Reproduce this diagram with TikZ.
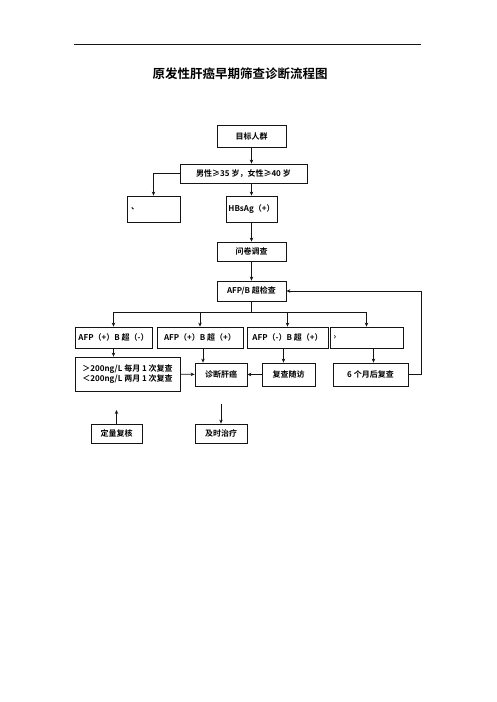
\documentclass[tikz,border=0pt]{standalone}
\usepackage{fontspec}
\setmainfont{Noto Sans CJK SC}[BoldFont={Noto Sans CJK SC Bold}]
\usepackage{tikz}
\usetikzlibrary{arrows.meta, positioning, calc}
\definecolor{mydark}{RGB}{20,20,20}
\tikzset{
  box/.style={rectangle, draw=mydark, fill=white, align=center,
    inner sep=1pt, font=\fontsize{8}{10}\selectfont\bfseries, line width=0.8pt},
  arrow/.style={-{Stealth[length=4pt,width=3.5pt]}, line width=0.8pt, color=mydark},
  line/.style={line width=0.8pt, color=mydark}
}
\begin{document}
\begin{tikzpicture}[x=1pt, y=-1pt]
  \useasboundingbox (0,0) rectangle (496,702);

  \draw[line] (74,44) -- (421,44);
  \node[font=\fontsize{12.5}{14}\selectfont\bfseries] (title) at (240,74) {原发性肝癌早期筛查诊断流程图};

  \node[box, minimum width=69pt, minimum height=22pt] (target)  at (251.5,136)   {目标人群};
  \node[box, minimum width=127pt, minimum height=19pt] (agecrit) at (243.5,173.5) {男性≥35 岁，女性≥40 岁};
  \node[box, minimum width=53pt, minimum height=26pt, text width=45pt, align=left] (blank) at (153.5,209) {、};
  \node[box, minimum width=51pt, minimum height=26pt] (hbsag)   at (251.5,209)   {HBsAg（+）};
  \node[box, minimum width=69pt, minimum height=19pt] (survey)  at (251.5,251.5) {问卷调查};
  \node[box, minimum width=69pt, minimum height=20pt] (afpb)    at (251.5,291)   {AFP/B 超检查};

  \node[box, minimum width=77pt, minimum height=21pt] (afppn) at (113.5,337.5) {AFP（+）B 超（-）};
  \node[box, minimum width=86pt, minimum height=21pt] (afppp) at (200,337.5)   {AFP（+）B 超（+）};
  \node[box, minimum width=81pt, minimum height=21pt] (afpnp) at (287.5,337.5) {AFP（-）B 超（+）};
  \node[box, minimum width=73pt, minimum height=21pt, text width=66pt, align=left] (other) at (366.5,337.5) {›};

  \node[box, minimum width=105pt, minimum height=34pt] (recheck) at (127.5,374) {＞200ng/L 每月 1 次复查\\＜200ng/L 两月 1 次复查};
  \node[box, minimum width=52pt, minimum height=23pt] (diag)    at (221,374.5)   {诊断肝癌};
  \node[box, minimum width=53pt, minimum height=23pt] (follow)  at (288.5,374.5) {复查随访};
  \node[box, minimum width=75pt, minimum height=23pt] (sixmon)  at (370.5,374.5) {6 个月后复查};

  \node[box, minimum width=51pt, minimum height=19pt] (quant) at (116.5,433.5) {定量复核};
  \node[box, minimum width=52pt, minimum height=19pt] (treat) at (221,433.5)   {及时治疗};

  \coordinate (split) at (251.5,312);
  \coordinate (back)  at (421,374.5);
  \coordinate (up)    at (116.5,410);
  \coordinate (down)  at (221,404);
  \coordinate (d2) at (203,348);
  \coordinate (d3) at (283.5,348);
  \coordinate (d4) at (373.5,348);

  \draw[arrow] (target) -- (target |- agecrit.north);
  \draw[arrow] (agecrit.west) -| (blank.north);
  \draw[arrow] (agecrit.south -| hbsag) -- (hbsag);
  \draw[arrow] (hbsag) -- (survey);
  \draw[arrow] (survey) -- (afpb);
  \draw[line] (afpb) -- (split);
  \draw[arrow] (split) -| (afppn.north);
  \draw[arrow] (split) -| (afppp.north);
  \draw[arrow] (split) -| (afpnp.north);
  \draw[arrow] (split) -| (other.north);

  \draw[arrow] (afppn.south) -- (afppn.south |- recheck.north);
  \draw[arrow] (d2) -- (d2 |- diag.north);
  \draw[arrow] (d3) -- (d3 |- follow.north);
  \draw[arrow] (d4) -- (d4 |- sixmon.north);
  \draw[arrow] (recheck) -- (diag);
  \draw[arrow] (follow) -- (diag);
  \draw[arrow] (sixmon) -- (back) |- (afpb);

  \draw[arrow] (quant) -- (up);
  \draw[arrow] (down) -- (treat);
\end{tikzpicture}
\end{document}
